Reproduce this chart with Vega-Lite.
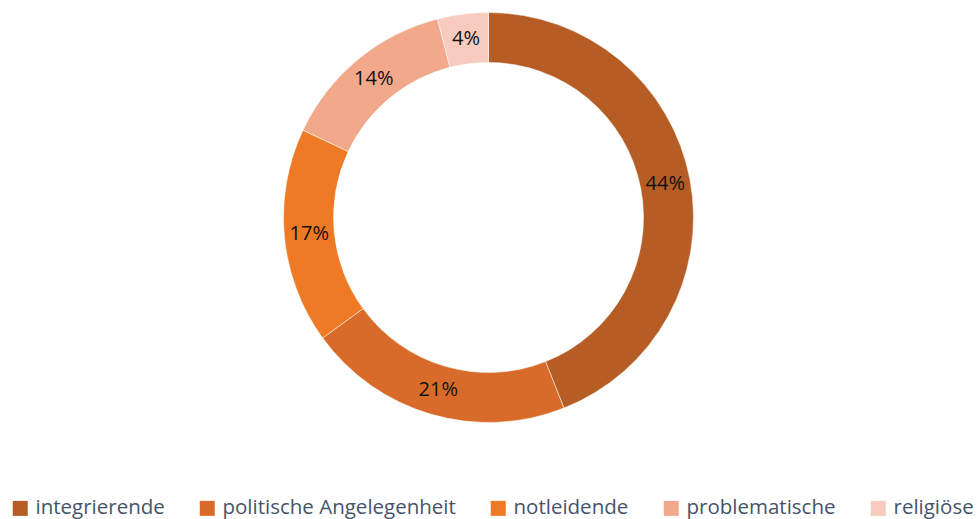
{
  "$schema": "https://vega.github.io/schema/vega-lite/v6.json",
  "width": 977,
  "height": 435,
  "padding": 0,
  "background": "white",
  "config": {"view": {"stroke": null}},
  "data": {
    "values": [
      {"kategorie": "integrierende", "anteil": 0.44, "rang": 1},
      {"kategorie": "politische Angelegenheit", "anteil": 0.21, "rang": 2},
      {"kategorie": "notleidende", "anteil": 0.17, "rang": 3},
      {"kategorie": "problematische", "anteil": 0.14, "rang": 4},
      {"kategorie": "religiöse", "anteil": 0.04, "rang": 5}
    ]
  },
  "encoding": {
    "theta": {"field": "anteil", "type": "quantitative", "stack": true},
    "order": {"field": "rang", "type": "quantitative"}
  },
  "layer": [
    {
      "mark": {"type": "arc", "outerRadius": 205, "innerRadius": 155, "stroke": "white", "strokeWidth": 0.5},
      "encoding": {
        "color": {
          "field": "kategorie",
          "type": "nominal",
          "scale": {
            "domain": ["integrierende", "politische Angelegenheit", "notleidende", "problematische", "religiöse"],
            "range": ["#B65D25", "#D96B2A", "#EE7A26", "#F2A88A", "#F7CBBE"]
          },
          "legend": {
            "title": null,
            "orient": "none",
            "direction": "horizontal",
            "legendX": 10,
            "legendY": 498,
            "padding": 0,
            "symbolType": "square",
            "symbolSize": 225,
            "symbolStrokeWidth": 0,
            "labelFont": "Open Sans",
            "labelFontSize": 20.5,
            "labelColor": "#44546A",
            "labelOffset": 5,
            "columnPadding": 32,
            "labelLimit": 400
          }
        }
      }
    },
    {
      "mark": {"type": "text", "radius": 180, "font": "Open Sans", "fontSize": 20, "color": "#111111"},
      "encoding": {
        "text": {"field": "anteil", "type": "quantitative", "format": ".0%"},
        "detail": {"field": "kategorie", "type": "nominal"}
      }
    }
  ]
}
